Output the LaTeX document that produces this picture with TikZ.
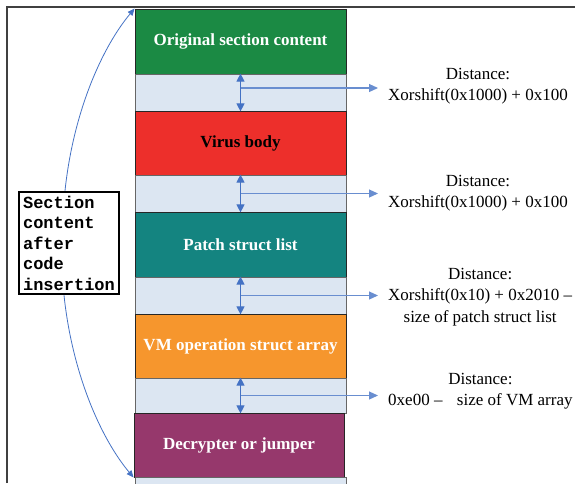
\documentclass[tikz,border=0pt]{standalone}
\usepackage{fontspec}
\setmainfont{Liberation Serif}
\newfontfamily\boxmono{Liberation Mono}
\usetikzlibrary{arrows.meta}

\definecolor{origgreen}{RGB}{27,138,68}
\definecolor{virusred}{RGB}{237,47,43}
\definecolor{patchteal}{RGB}{20,132,128}
\definecolor{vmorange}{RGB}{246,150,45}
\definecolor{decrpurple}{RGB}{150,56,108}
\definecolor{gapblue}{RGB}{220,230,242}
\definecolor{linkblue}{RGB}{68,114,196}

\tikzset{
  block/.style={draw=black!85, line width=0.9, minimum width=211pt, minimum height=65pt, inner sep=0pt, text=white, font=\fontsize{17pt}{17pt}\selectfont\bfseries},
  gapbox/.style={draw=black!60, fill=gapblue, line width=0.8, minimum width=211pt, minimum height=37pt, inner sep=0pt},
  gaparrow/.style={{Triangle[length=8pt,width=8pt]}-{Triangle[length=8pt,width=8pt]}, line width=1.1, linkblue},
  pointer/.style={-{Triangle[length=9pt,width=8pt]}, line width=1.1, linkblue!80, shorten >=10pt},
  sidearrow/.style={-{Triangle[length=7pt,width=6pt]}, line width=0.8, linkblue},
  disttext/.style={align=center, anchor=west, inner sep=0pt, font=\fontsize{17pt}{21.5pt}\selectfont}
}

\begin{document}
\begin{tikzpicture}[x=1pt,y=-1pt]
            \useasboundingbox (0,0) rectangle (575,483);
            % frame
            \draw [line width=2, black!75] (7,483) -- (7,7) -- (575,7);
            % column of blocks
            \node [block, fill=origgreen] (orig) at (240.5,41.5) {Original section content};
            \node [gapbox] (gapA) at (240.5,92.5) {};
            \node [block, fill=virusred, text=black, minimum height=64pt] (virus) at (240.5,143) {Virus body};
            \node [gapbox] (gapB) at (240.5,193.5) {};
            \node [block, fill=patchteal] (patch) at (240.5,244.5) {Patch struct list};
            \node [gapbox] (gapC) at (240.5,295.5) {};
            \node [block, fill=vmorange, minimum height=64pt] (vmops) at (240.5,346) {VM operation struct array};
            \node [gapbox, minimum height=35pt] (gapD) at (240.5,395.5) {};
            \node [block, fill=decrpurple, minimum width=210pt, minimum height=64pt] (decr) at (239,445) {Decrypter or jumper};
            \node [gapbox, minimum height=26pt] (gapE) at (240.5,490) {};
            % distances
            \draw [gaparrow] (gapA.north) -- (gapA.south);
            \draw [gaparrow] (gapB.north) -- (gapB.south);
            \draw [gaparrow] (gapC.north) -- (gapC.south);
            \draw [gaparrow] (gapD.north) -- (gapD.south);
            \node [disttext] (distA) at (388,86) {Distance:\\Xorshift(0x1000) + 0x100};
            \node [disttext] (distB) at (388,193) {Distance:\\Xorshift(0x1000) + 0x100};
            \node [disttext] (distC) at (388,297) {Distance:\\Xorshift(0x10) + 0x2010 \textendash\\size of patch struct list};
            \node [disttext] (distD) at (388,391) {Distance:\\0xe00 \textendash\hspace{0.6em} size of VM array};
            \coordinate (midA) at ([yshift=4.5pt]gapA.center);
            \draw [pointer] (midA) -- (distA.west |- midA);
            \draw [pointer] (gapB.center) -- (distB.west |- gapB.center);
            \draw [pointer] (gapC.center) -- (distC.west |- gapC.center);
            \draw [pointer] (gapD.center) -- (distD.west |- gapD.center);
            % section note on the left
            \node [draw, line width=2, fill=white, align=left, inner sep=4pt, font=\fontsize{17pt}{20.5pt}\boxmono\bfseries] (note) at (69,243) {Section\\content\\after\\code\\insertion};
            \draw [sidearrow] ([xshift=-4pt]note.north) .. controls +(8.4,-79.6) and +(-32.1,38.3) .. (orig.north west);
            \draw [sidearrow] ([xshift=-5pt]note.south) .. controls +(8.4,79.6) and +(-32.1,-38.3) .. (decr.south west);
         \end{tikzpicture}
\end{document}
